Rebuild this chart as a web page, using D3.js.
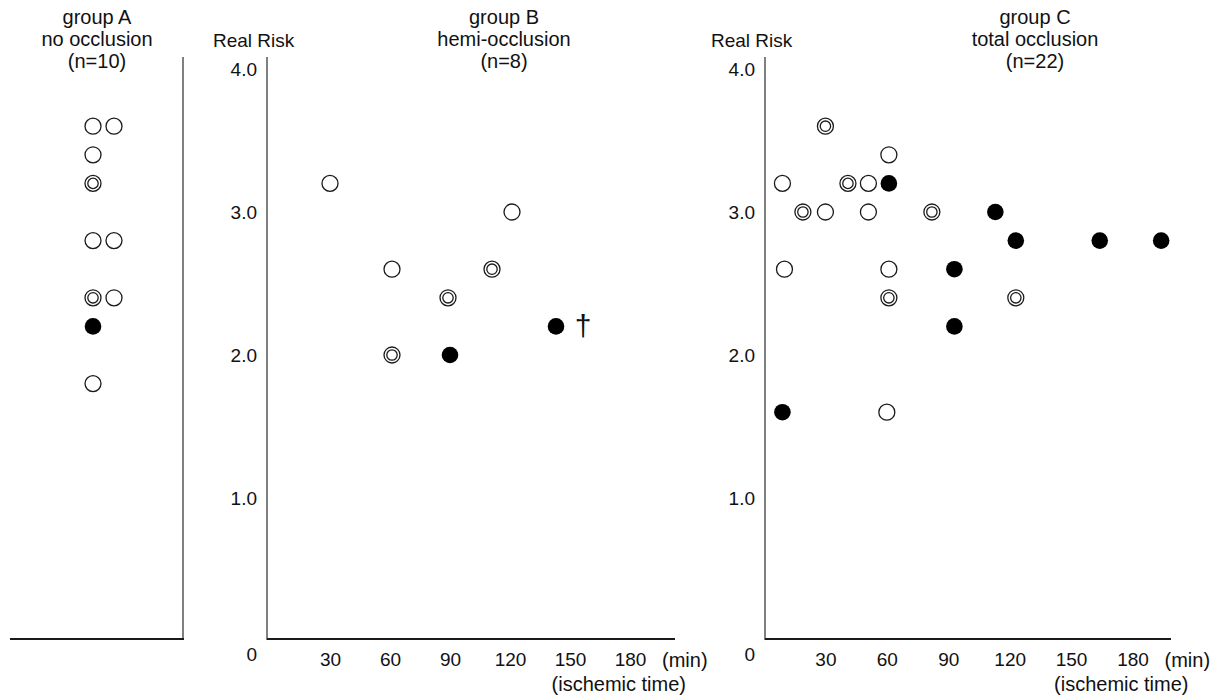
<!DOCTYPE html>
<html>
<head>
<meta charset="utf-8">
<script src="https://cdn.jsdelivr.net/npm/d3@7"></script>
<style>
  body { margin: 0; background: #fff; }
  svg { display: block; font-family: "Liberation Sans", Arial, sans-serif; }
  text { fill: #111; }
</style>
</head>
<body>
<div id="chart"></div>
<script>
// group A has no time axis, just two columns of markers
const groupAColumn = [0, 1, 0, 0, 0, 1, 0, 1, 0, 0];
const groupARisk = [3.6, 3.6, 3.4, 3.2, 2.8, 2.8, 2.4, 2.4, 2.2, 1.8];
const groupAType = ['open', 'open', 'open', 'double', 'open', 'open', 'double', 'open', 'filled', 'open'];

const groupBTime = [30, 61, 61, 90, 89, 111, 121, 143];
const groupBRisk = [3.2, 2.6, 2.0, 2.0, 2.4, 2.6, 3.0, 2.2];
const groupBType = ['open', 'open', 'double', 'filled', 'double', 'double', 'open', 'filled'];
const groupBNote = ['', '', '', '', '', '', '', '†'];

const groupCTime = [30, 61, 9, 41, 51, 61, 19, 30, 51, 82, 113, 123, 164, 194, 10, 61, 93, 61, 123, 93, 9, 60];
const groupCRisk = [3.6, 3.4, 3.2, 3.2, 3.2, 3.2, 3.0, 3.0, 3.0, 3.0, 3.0, 2.8, 2.8, 2.8, 2.6, 2.6, 2.6, 2.4, 2.4, 2.2, 1.6, 1.6];
const groupCType = ['double', 'open', 'open', 'double', 'open', 'filled', 'double', 'open', 'open', 'double', 'filled',
  'filled', 'filled', 'filled', 'open', 'open', 'filled', 'double', 'double', 'filled', 'filled', 'open'];

const riskTicks = [0, 1, 2, 3, 4];
const timeTicks = [30, 60, 90, 120, 150, 180];

const titleA = ['group A', 'no occlusion', '(n=10)'];
const titleB = ['group B', 'hemi-occlusion', '(n=8)'];
const titleC = ['group C', 'total occlusion', '(n=22)'];

const width = 1226;
const height = 697;

const svg = d3.select('#chart').append('svg')
  .attr('width', width)
  .attr('height', height);

// shared risk scale, 0 sits on the baseline
const yScale = d3.scaleLinear().domain([0, 4]).range([641, 69]);
const baseY = 639;
const axisTop = 57;
const fontSize = 19;
const wordSize = 20;

function drawTitle(lines, cx) {
  const t = svg.append('text')
    .attr('text-anchor', 'middle')
    .attr('font-size', wordSize);
  lines.forEach((line, i) => {
    t.append('tspan').attr('x', cx).attr('y', 24 + i * 22).text(line);
  });
}

function drawMarkers(points, xOf) {
  const g = svg.append('g');
  points.forEach(p => {
    const cx = xOf(p);
    const cy = yScale(p.risk);
    if (p.type === 'filled') {
      g.append('circle').attr('cx', cx).attr('cy', cy).attr('r', 8.3).attr('fill', '#000');
    } else {
      g.append('circle').attr('cx', cx).attr('cy', cy).attr('r', 8)
        .attr('fill', '#fff').attr('stroke', '#1a1a1a').attr('stroke-width', 1.3);
      if (p.type === 'double') {
        g.append('circle').attr('cx', cx).attr('cy', cy).attr('r', 5.2)
          .attr('fill', 'none').attr('stroke', '#1a1a1a').attr('stroke-width', 1.3);
      }
    }
    if (p.note) {
      g.append('text')
        .attr('x', cx + 27).attr('y', cy)
        .attr('dy', '0.32em')
        .attr('text-anchor', 'middle')
        .attr('font-size', 30)
        .text(p.note);
    }
  });
}

function drawTimePanel(opts) {
  const xScale = d3.scaleLinear().domain([0, 180]).range(opts.range);
  const x0 = opts.axisX;

  // y axis: gray vertical line, labels only
  svg.append('line')
    .attr('x1', x0).attr('x2', x0)
    .attr('y1', axisTop).attr('y2', baseY + 1)
    .attr('stroke', '#808080').attr('stroke-width', 2);

  const yAxis = svg.append('g')
    .attr('transform', `translate(${x0},0)`)
    .call(d3.axisLeft(yScale).tickValues(riskTicks).tickSize(0).tickPadding(10)
      .tickFormat(d => d === 0 ? '0' : d3.format('.1f')(d)));
  yAxis.select('.domain').remove();
  yAxis.selectAll('text').attr('font-size', fontSize).attr('font-family', null).attr('fill', '#111');
  yAxis.selectAll('.tick').filter(d => d === 0).select('text')
    .attr('dy', '1.0em');

  // x axis: dark baseline
  svg.append('line')
    .attr('x1', x0).attr('x2', opts.baseEnd)
    .attr('y1', baseY).attr('y2', baseY)
    .attr('stroke', '#1a1a1a').attr('stroke-width', 2);

  const xAxis = svg.append('g')
    .attr('transform', `translate(0,${baseY})`)
    .call(d3.axisBottom(xScale).tickValues(timeTicks).tickSize(0).tickPadding(14));
  xAxis.select('.domain').remove();
  xAxis.selectAll('text').attr('font-size', fontSize).attr('font-family', null).attr('fill', '#111');

  svg.append('text')
    .attr('x', xScale(180) + 32).attr('y', 667)
    .attr('font-size', wordSize)
    .text('(min)');

  svg.append('text')
    .attr('x', xScale(180) + 56).attr('y', 691)
    .attr('text-anchor', 'end')
    .attr('font-size', wordSize)
    .text('(ischemic time)');

  svg.append('text')
    .attr('x', x0 - 54).attr('y', 47)
    .attr('font-size', fontSize)
    .text('Real Risk');

  drawTitle(opts.title, opts.titleX);
  drawMarkers(opts.points, p => xScale(p.time));
}

// group A panel
const colScale = d3.scalePoint().domain([0, 1]).range([93, 114]);
svg.append('line')
  .attr('x1', 183).attr('x2', 183)
  .attr('y1', axisTop).attr('y2', baseY + 1)
  .attr('stroke', '#808080').attr('stroke-width', 2);
svg.append('line')
  .attr('x1', 10).attr('x2', 184)
  .attr('y1', baseY).attr('y2', baseY)
  .attr('stroke', '#1a1a1a').attr('stroke-width', 2);
drawTitle(titleA, 97);
drawMarkers(groupARisk.map((r, i) => ({ risk: r, col: groupAColumn[i], type: groupAType[i] })),
  p => colScale(p.col));

// group B panel
drawTimePanel({
  axisX: 267,
  range: [270, 630],
  baseEnd: 675,
  title: titleB,
  titleX: 504,
  points: groupBTime.map((t, i) => ({ time: t, risk: groupBRisk[i], type: groupBType[i], note: groupBNote[i] }))
});

// group C panel
drawTimePanel({
  axisX: 765,
  range: [764, 1132.5],
  baseEnd: 1171,
  title: titleC,
  titleX: 1035,
  points: groupCTime.map((t, i) => ({ time: t, risk: groupCRisk[i], type: groupCType[i] }))
});
</script>
</body>
</html>
